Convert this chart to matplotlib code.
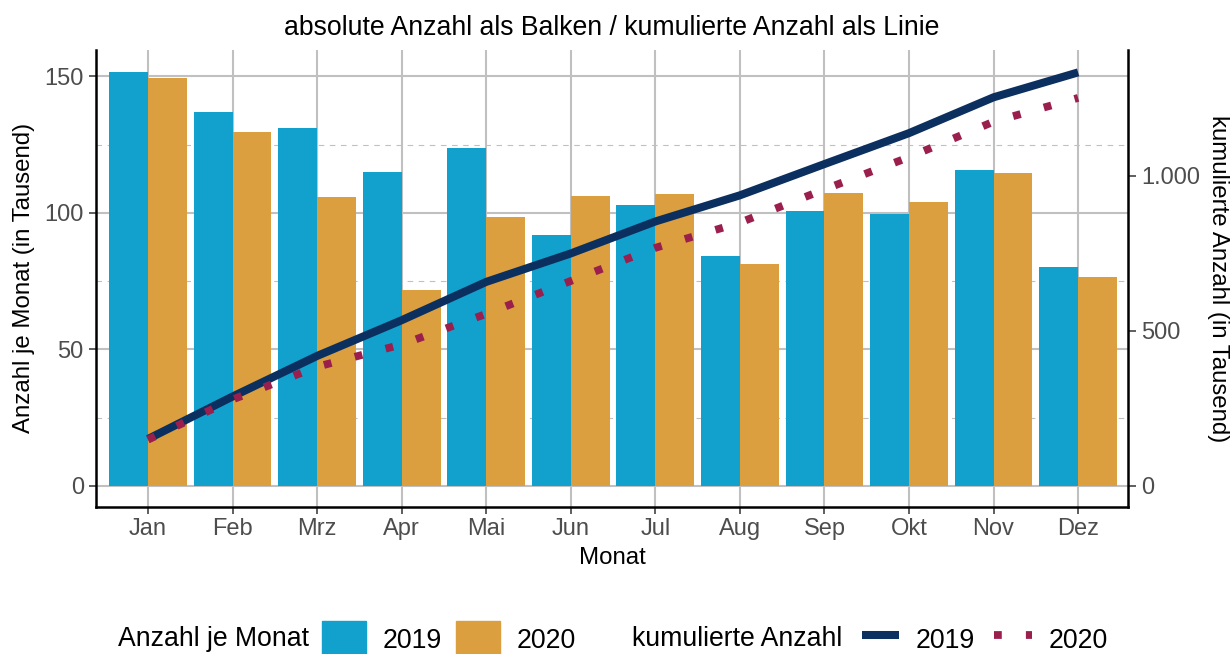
import matplotlib.pyplot as plt
from matplotlib.patches import Patch
from matplotlib.lines import Line2D

plt.rcParams['font.family'] = ['Liberation Sans', 'DejaVu Sans']

monate = ["Jan", "Feb", "Mrz", "Apr", "Mai", "Jun", "Jul", "Aug", "Sep", "Okt", "Nov", "Dez"]
anzahl_2019 = [151.4, 136.8, 130.9, 115.1, 123.6, 91.7, 103.0, 84.3, 100.8, 99.7, 115.5, 80.3]
anzahl_2020 = [149.2, 129.4, 105.6, 71.9, 98.6, 106.1, 106.7, 81.4, 107.1, 103.8, 114.4, 76.6]
kum_2019 = [151.4, 288.2, 419.1, 534.2, 657.8, 749.5, 852.5, 936.8, 1037.6, 1137.3, 1252.8, 1333.1]
kum_2020 = [149.2, 278.6, 384.2, 456.1, 554.7, 660.8, 767.5, 848.9, 956.0, 1059.8, 1174.2, 1250.8]

c19 = "#12a1cd"
c20 = "#db9f3f"
c_kum19 = "#0b3060"
c_kum20 = "#9b1f4d"
grid_c = "#c0c0c0"
tick_c = "#4d4d4d"
fs_tick = 17
fs_lab = 17.3
fs_big = 19.2
W, H = 1230, 654

fig = plt.figure(figsize=(W / 100, H / 100), dpi=100)
ax_b, ax_t = 506.7, 50
ax = fig.add_axes([96 / W, (H - ax_b) / H, (1128 - 96) / W, (ax_b - ax_t) / H])

x = list(range(len(monate)))
bw = 0.46
ax.bar([i - bw / 2 for i in x], anzahl_2019, width=bw, color=c19, zorder=2)
ax.bar([i + bw / 2 for i in x], anzahl_2020, width=bw, color=c20, zorder=2)

ax.set_xlim(-0.615, 11.59)
ylim = (-7.6, 159.6)
ax.set_ylim(*ylim)
ax.set_xticks(x)
ax.set_xticklabels(monate)
ax.set_yticks([0, 50, 100, 150])
ax.set_yticks([25, 75, 125], minor=True)
ax.set_axisbelow(True)
ax.grid(True, which='major', color=grid_c, lw=1.5)
ax.grid(True, which='minor', axis='y', color=grid_c, lw=0.8, ls=(0, (5, 5)))
ax.tick_params(which='minor', length=0)
ax.tick_params(which='major', length=4.8, width=1.1, color="#333333", labelcolor=tick_c,
               labelsize=fs_tick)
ax.tick_params(axis='y', pad=4)
ax.tick_params(axis='x', pad=3)

for s in ['top', 'right']:
    ax.spines[s].set_visible(False)
for s in ['left', 'bottom']:
    ax.spines[s].set_linewidth(1.8)
    ax.spines[s].set_color("black")

def ax_y(py):
    return (ax_b - py) / (ax_b - ax_t)

def ax_x(px):
    return (px - 96) / (1128 - 96)

ax.set_xlabel("Monat", fontsize=fs_lab)
ax.xaxis.set_label_coords(0.5, ax_y(558))
ax.xaxis.label.set_va('center')
ax.set_ylabel("Anzahl je Monat (in Tausend)", fontsize=fs_lab)
ax.yaxis.set_label_coords(ax_x(24), 0.5)
ax.yaxis.label.set_va('center')
ax.set_title("absolute Anzahl als Balken / kumulierte Anzahl als Linie", fontsize=fs_big,
             y=ax_y(28), pad=0, va='center')

# zweite Achse fuer die kumulierte Anzahl
faktor = 8.805
ax2 = ax.twinx()
ax2.set_ylim(ylim[0] * faktor, ylim[1] * faktor)
ax2.plot(x, kum_2019, color=c_kum19, lw=5.8, solid_capstyle='butt', zorder=3)
ax2.plot(x, kum_2020, color=c_kum20, lw=5.6, ls=(0, (1, 3.1)), dash_capstyle='butt', zorder=3)
ax2.set_yticks([0, 500, 1000])
ax2.set_yticklabels(["0", "500", "1.000"])
ax2.tick_params(length=5.5, width=1.1, color="#333333", labelcolor=tick_c, labelsize=fs_tick, pad=4)
for s in ['top', 'left', 'bottom']:
    ax2.spines[s].set_visible(False)
ax2.spines['right'].set_linewidth(1.8)
ax2.set_ylabel("kumulierte Anzahl (in Tausend)", fontsize=fs_lab, rotation=270)
ax2.yaxis.set_label_coords(ax_x(1218), 0.5)
ax2.yaxis.label.set_va('center')

# Legende
ly = 1 - 639 / H
px_per_pt = 100 / 72
fs_px = fs_big * px_per_pt
fig.text(118 / W, ly, "Anzahl je Monat", fontsize=fs_big, va='center', ha='left')
fig.text(632 / W, ly, "kumulierte Anzahl", fontsize=fs_big, va='center', ha='left')

eintraege = [
    (Patch(color=c19), "2019", 322, 44),
    (Patch(color=c20), "2020", 456, 44),
    (Line2D([], [], color=c_kum19, lw=5.8, solid_capstyle='butt'), "2019", 862, 37),
    (Line2D([], [], color=c_kum20, lw=5.6, ls=(0, (1, 3.1)), dash_capstyle='butt'), "2020", 994, 38),
]
for handle, label, px, laenge in eintraege:
    fig.legend(handles=[handle], labels=[label], loc='center left',
               bbox_to_anchor=(px / W, ly), frameon=False, borderpad=0, borderaxespad=0,
               fontsize=fs_big, handlelength=laenge / fs_px, handleheight=44 / fs_px,
               handletextpad=17 / fs_px)

fig.savefig("out.png", dpi=100)
